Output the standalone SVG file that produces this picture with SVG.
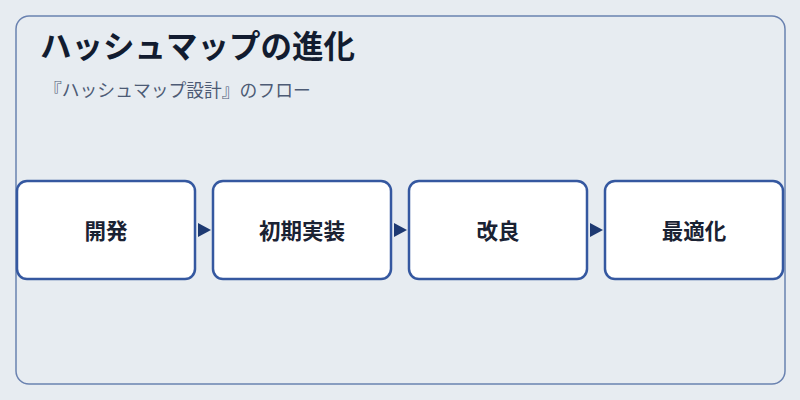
<svg xmlns="http://www.w3.org/2000/svg" width="800" height="400" viewBox="0 0 800 400">
<style>
.bg{fill:#e7ecf1}
.frame{fill:#e7ecf1;stroke:#6a82b0;stroke-width:1.5}
.node rect{fill:#ffffff;stroke:#3558a0;stroke-width:2.5}
.node text{font-family:"Noto Sans CJK JP","Noto Sans",sans-serif;font-size:21.5px;font-weight:700;fill:#1a2233;text-anchor:middle}
.title{font-family:"Noto Sans CJK JP","Noto Sans",sans-serif;font-size:31.5px;font-weight:700;fill:#121c30}
.sub{font-family:"Noto Sans CJK JP","Noto Sans",sans-serif;font-size:17.8px;fill:#4d5b75}
.arrow{fill:#1e3a72}
</style>
<rect class="bg" x="0" y="0" width="800" height="400"/>
<rect class="frame" x="16" y="16" width="769" height="368" rx="13"/>
<text class="title" x="40" y="58">ハッシュマップの進化</text>
<text class="sub" x="44" y="97">『ハッシュマップ設計』のフロー</text>
<g id="connectors">
<polygon class="arrow" points="198,223 211,230 198,237"/>
<polygon class="arrow" points="394,223 407,230 394,237"/>
<polygon class="arrow" points="590,223 603,230 590,237"/>
</g>
<g id="n1" class="node"><rect x="17" y="181" width="178" height="98" rx="10"/><text x="106" y="239">開発</text></g>
<g id="n2" class="node"><rect x="213" y="181" width="178" height="98" rx="10"/><text x="302" y="239">初期実装</text></g>
<g id="n3" class="node"><rect x="409" y="181" width="178" height="98" rx="10"/><text x="498" y="239">改良</text></g>
<g id="n4" class="node"><rect x="605" y="181" width="178" height="98" rx="10"/><text x="694" y="239">最適化</text></g>
</svg>
